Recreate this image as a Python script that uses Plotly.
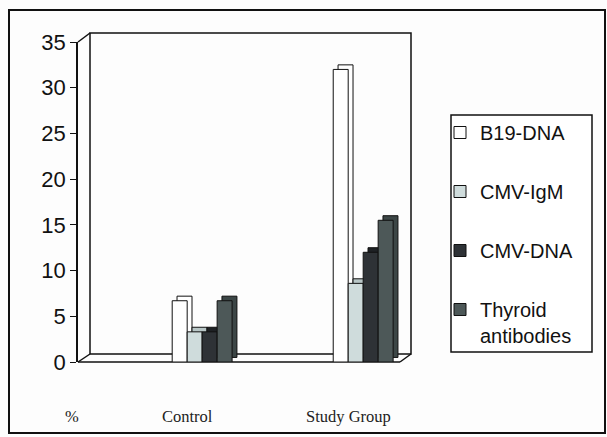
import plotly.graph_objects as go

categories = ["Control", "Study Group"]
series_names = ["B19-DNA", "CMV-IgM", "CMV-DNA", "Thyroid<br>antibodies"]
b19_dna = [6.7, 32.0]
cmv_igm = [3.3, 8.6]
cmv_dna = [3.3, 12.0]
thyroid_ab = [6.7, 15.5]
y_ticks = [0, 5, 10, 15, 20, 25, 30, 35]

values = [b19_dna, cmv_igm, cmv_dna, thyroid_ab]
front_colors = ["#ffffff", "#cfdcdc", "#2e3236", "#4d5858"]
side_colors = ["#ffffff", "#b8c6c6", "#1e2124", "#3c4646"]

W, H = 607, 437
L, R, T, B = 78, 411, 42, 362  # plot area pixels


def fx(px):
    return (px - L) / (R - L)


def fy(py):
    return (B - py) / (B - T)


fig = go.Figure()
bw = 0.093
depth_x = 0.030
depth_y = 0.5
for i, (name, vals) in enumerate(zip(series_names, values)):
    off = -2 * bw + i * bw
    fig.add_trace(go.Bar(
        x=categories, y=vals, base=depth_y, offset=off + depth_x, width=bw,
        marker=dict(color=side_colors[i], line=dict(color="#111", width=1)),
        showlegend=False, hoverinfo="skip", legendgroup=name,
    ))
    fig.add_trace(go.Bar(
        x=categories, y=vals, offset=off, width=bw, name=name,
        marker=dict(color=front_colors[i], line=dict(color="#111", width=1)),
        legendgroup=name,
    ))

line = dict(color="#111", width=1.5)
shapes = [
    # outer frame
    dict(type="rect", xref="paper", yref="paper", x0=fx(9), x1=fx(605), y0=fy(433), y1=fy(10),
         line=dict(color="#111", width=2), layer="below"),
    # back wall
    dict(type="rect", xref="paper", yref="paper", x0=fx(90), x1=fx(411), y0=fy(354), y1=fy(33),
         line=line, layer="below"),
    dict(type="line", xref="paper", yref="paper", x0=fx(78), x1=fx(90), y0=fy(42), y1=fy(33), line=line, layer="below"),
    dict(type="line", xref="paper", yref="paper", x0=fx(78), x1=fx(90), y0=fy(362), y1=fy(354), line=line, layer="below"),
    # floor
    dict(type="line", xref="paper", yref="paper", x0=fx(78), x1=fx(400), y0=fy(362), y1=fy(362), line=line, layer="below"),
    dict(type="line", xref="paper", yref="paper", x0=fx(400), x1=fx(411), y0=fy(362), y1=fy(354), line=line, layer="below"),
    # legend box
    dict(type="rect", xref="paper", yref="paper", x0=fx(451), x1=fx(592), y0=fy(352), y1=fy(115),
         line=line, fillcolor="#ffffff", layer="below"),
]

label_font = dict(family="Liberation Serif", size=16.5, color="#222")
annotations = [
    dict(text="%", xref="paper", yref="paper", x=fx(72), y=fy(416), showarrow=False,
         xanchor="center", yanchor="middle", font=label_font),
]
for i, c in enumerate(categories):
    annotations.append(dict(text=c, xref="x", yref="paper", x=i - 0.09, y=fy(416), showarrow=False,
                            xanchor="center", yanchor="middle", font=label_font))

fig.update_layout(
    width=W, height=H,
    margin=dict(l=L, r=W - R, t=T, b=H - B, pad=0),
    paper_bgcolor="#fdfdfd", plot_bgcolor="rgba(0,0,0,0)",
    barmode="overlay",
    shapes=shapes, annotations=annotations,
    xaxis=dict(range=[-0.771, 1.297], showticklabels=False, showline=False, showgrid=False,
               zeroline=False, ticks=""),
    yaxis=dict(range=[0, 35], tickvals=y_ticks, showline=True, linecolor="#111", linewidth=1.5,
               ticks="outside", ticklen=6, tickcolor="#111", showgrid=False, zeroline=False,
               tickfont=dict(family="Liberation Sans", size=22, color="#111")),
    legend=dict(x=fx(440), y=fy(113), xanchor="left", yanchor="top",
                bgcolor="rgba(0,0,0,0)", borderwidth=0, valign="top",
                font=dict(family="Liberation Sans", size=20, color="#111"),
                traceorder="grouped", tracegroupgap=30, itemwidth=30),
    showlegend=True,
)

fig.write_html("out.html", post_script="document.body.style.margin='0';",
               config={"displayModeBar": False})
